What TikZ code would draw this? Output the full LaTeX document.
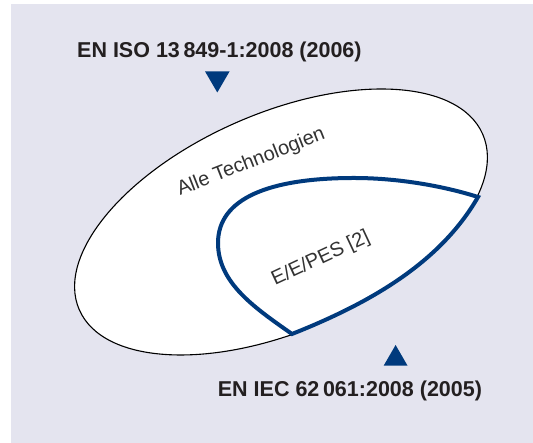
\documentclass[tikz,border=0pt]{standalone}
\usepackage{fontspec}
\setmainfont{Liberation Sans}
\definecolor{bg}{HTML}{E4E4EF}
\definecolor{isoblue}{HTML}{003A7D}
\definecolor{ink}{HTML}{231F20}
\definecolor{labelgray}{HTML}{333333}
\begin{document}
\begin{tikzpicture}[x=1pt,y=1pt,
  titletext/.style={anchor=base west, inner sep=0pt, font=\fontsize{21.5}{24}\selectfont\bfseries, text=ink},
  areatext/.style={anchor=base west, inner sep=0pt, font=\fontsize{20}{22}\selectfont, text=labelgray},
  marker/.style={fill=isoblue},
  outerline/.style={draw=black, line width=1.1pt},
  blueline/.style={draw=isoblue, line width=4pt, line join=miter}]
\useasboundingbox (0,0) rectangle (533,443);
\fill[bg] (11,0) rectangle (533,439);
\coordinate (J1) at (292,109);
\coordinate (J2) at (478,246);
% outer region: tilted ellipse cut by the lower blue edge
\begin{scope}
  \clip (J1) .. controls (370,140) and (440,180) .. (J2) -- (540,300) -- (540,450) -- (-10,450) -- (-10,-10) -- (292,-10) -- cycle;
  \begin{scope}[shift={(281,221)}, rotate=23.5]
    \fill[white] (0,0) ellipse [x radius=220pt, y radius=109pt];
    \draw[outerline] (0,0) ellipse [x radius=220pt, y radius=109pt];
  \end{scope}
\end{scope}
% inner blue region
\draw[blueline] (J2) .. controls (440,258) and (395,265) .. (354,265)
  .. controls (270,265) and (218,245) .. (218,200)
  .. controls (218,160) and (255,135) .. (J1)
  .. controls (370,140) and (440,180) .. (J2) -- cycle;
% markers
\fill[marker] (205,371.6) -- (229.6,371.6) -- (217.3,350.5) -- cycle;
\fill[marker] (383.7,77.4) -- (407.5,77.4) -- (395.6,98) -- cycle;
% texts
\node[titletext] (iso) at (77,385.7) {EN ISO 13\,849-1:2008 (2006)};
\node[titletext] (iec) at (217.7,46) {EN IEC 62\,061:2008 (2005)};
\node[areatext, rotate=21.5] (alle) at (180,247) {Alle Technologien};
\node[areatext, rotate=25] (eepes) at (275,157) {E/E/PES [2]};
\end{tikzpicture}
\end{document}
